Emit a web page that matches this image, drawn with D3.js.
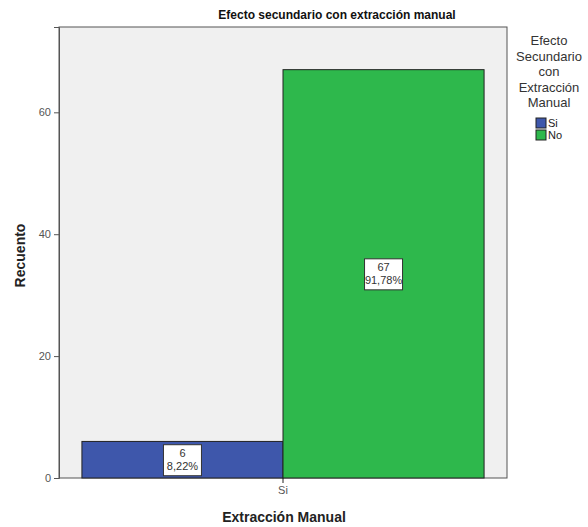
<!DOCTYPE html>
<html>
<head>
<meta charset="utf-8">
<script src="https://cdn.jsdelivr.net/npm/d3@7"></script>
<style>
  html, body { margin: 0; padding: 0; background: #ffffff; }
  svg { display: block; font-family: "Liberation Sans", Arial, sans-serif; }
</style>
</head>
<body>
<svg id="chart" width="588" height="527"></svg>
<script>
// Data
const categories = ["Si"];
const seriesNames = ["Si", "No"];
const seriesColors = ["#3e57ab", "#2eb84c"];
const counts = [6, 67];
const percentLabels = ["8,22%", "91,78%"];
const yTicks = [0, 20, 40, 60];
const legendTitle = ["Efecto", "Secundario", "con", "Extracción", "Manual"];

const svg = d3.select("#chart");
const plot = { left: 59, right: 507, top: 27, bottom: 478 };

const x = d3.scaleBand().domain(categories).range([plot.left, plot.right]).paddingOuter(0.057).paddingInner(0);
const xSub = d3.scaleBand().domain(seriesNames).range([0, x.bandwidth()]);
const y = d3.scaleLinear().domain([0, 74]).range([plot.bottom, plot.top]);

// Plot background
svg.append("rect")
  .attr("x", plot.left).attr("y", plot.top)
  .attr("width", plot.right - plot.left).attr("height", plot.bottom - plot.top)
  .attr("fill", "#f0f0f0").attr("stroke", "#555").attr("stroke-width", 1);

// Bars
const bars = seriesNames.map((s, i) => ({ series: s, cat: categories[0], value: counts[i], pct: percentLabels[i], color: seriesColors[i] }));
svg.append("g").selectAll("rect").data(bars).join("rect")
  .attr("x", d => x(d.cat) + xSub(d.series))
  .attr("y", d => y(d.value))
  .attr("width", xSub.bandwidth())
  .attr("height", d => y(0) - y(d.value))
  .attr("fill", d => d.color)
  .attr("stroke", "#222").attr("stroke-width", 1);

// Value labels
const lab = svg.append("g").selectAll("g").data(bars).join("g")
  .attr("transform", d => `translate(${x(d.cat) + xSub(d.series) + xSub.bandwidth() / 2},${(y(d.value) + y(0)) / 2})`);
lab.append("rect")
  .attr("x", -19).attr("y", -15).attr("width", 38).attr("height", 31)
  .attr("fill", "#fff").attr("stroke", "#333").attr("stroke-width", 1);
lab.append("text").attr("text-anchor", "middle").attr("y", -3)
  .attr("font-size", 11).attr("fill", "#333").text(d => d.value);
lab.append("text").attr("text-anchor", "middle").attr("y", 10)
  .attr("font-size", 11).attr("fill", "#333").text(d => d.pct);

// Y axis
const yAxis = svg.append("g").attr("transform", `translate(${plot.left},0)`)
  .call(d3.axisLeft(y).tickValues(yTicks).tickSize(5).tickPadding(3));
yAxis.select(".domain").attr("stroke", "#555");
yAxis.selectAll(".tick line").attr("stroke", "#555");
yAxis.selectAll(".tick text").attr("font-size", 11).attr("fill", "#555").attr("font-family", "Liberation Sans, Arial, sans-serif");

// X axis
const xAxis = svg.append("g").attr("transform", `translate(0,${plot.bottom})`)
  .call(d3.axisBottom(x).tickSize(5).tickPadding(3));
xAxis.select(".domain").remove();
xAxis.selectAll(".tick line").attr("stroke", "#222");
xAxis.selectAll(".tick text").attr("font-size", 11).attr("fill", "#555").attr("font-family", "Liberation Sans, Arial, sans-serif");

// Titles
svg.append("text").attr("x", 337).attr("y", 19).attr("text-anchor", "middle")
  .attr("font-size", 12).attr("font-weight", "bold").attr("fill", "#111")
  .text("Efecto secundario con extracción manual");
svg.append("text").attr("x", (plot.left + plot.right) / 2 + 1).attr("y", 522).attr("text-anchor", "middle")
  .attr("font-size", 14).attr("font-weight", "bold").attr("fill", "#222")
  .text("Extracción Manual");
svg.append("text").attr("transform", `translate(25,${(plot.top + plot.bottom) / 2 + 3}) rotate(-90)`)
  .attr("text-anchor", "middle")
  .attr("font-size", 14).attr("font-weight", "bold").attr("fill", "#222")
  .text("Recuento");

// Legend
const lg = svg.append("g");
lg.selectAll("text.title").data(legendTitle).join("text").attr("class", "title")
  .attr("x", 549).attr("y", (d, i) => 45 + i * 15.5).attr("text-anchor", "middle")
  .attr("font-size", 13).attr("fill", "#333").text(d => d);
const items = lg.selectAll("g.item").data(seriesNames).join("g").attr("class", "item")
  .attr("transform", (d, i) => `translate(536,${118 + i * 12})`);
items.append("rect").attr("width", 10).attr("height", 10)
  .attr("fill", (d, i) => seriesColors[i]).attr("stroke", "#222").attr("stroke-width", 1);
items.append("text").attr("x", 12).attr("y", 9).attr("font-size", 11).attr("fill", "#222").text(d => d);
</script>
</body>
</html>
